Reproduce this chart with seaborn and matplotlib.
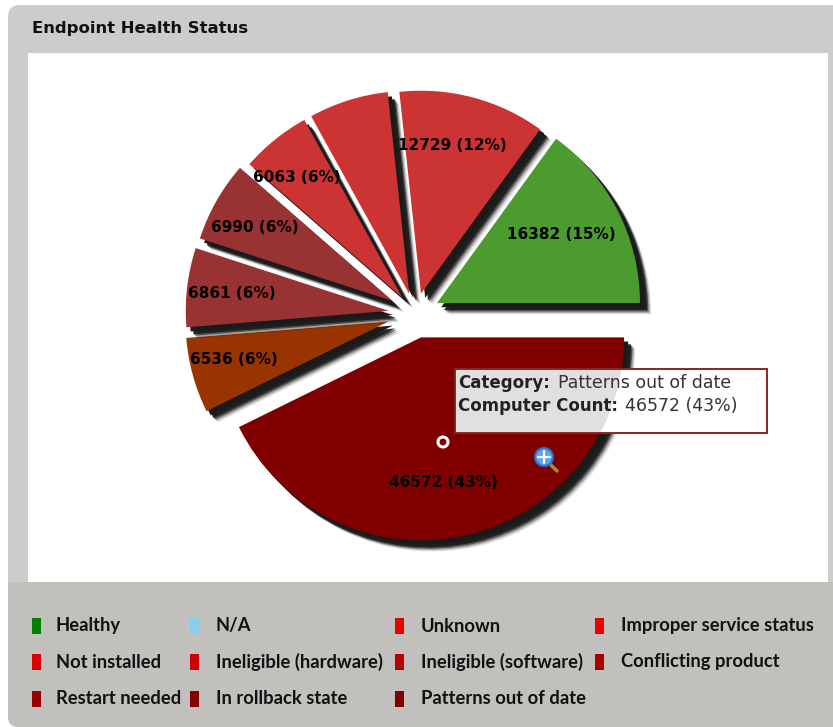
import matplotlib
matplotlib.use("Agg")
import matplotlib.pyplot as plt
import matplotlib.patheffects as pe
from matplotlib.patches import FancyBboxPatch, Rectangle, Circle
import seaborn as sns

sns.set_theme(style="white")
plt.rcParams['font.family'] = ['DejaVu Sans']

title = "Endpoint Health Status"
slice_names = ["Patterns out of date", "In rollback state", "Restart needed", "Conflicting product",
               "Ineligible (software)", "Ineligible (hardware)", "Not installed", "Healthy"]
slice_values = [46572, 6536, 6861, 6990, 6063, 6900, 12729, 16382]
slice_labels = ["46572 (43%)", "6536 (6%)", "6861 (6%)", "6990 (6%)", "6063 (6%)", "", "12729 (12%)", "16382 (15%)"]
slice_colors = ["#800000", "#993300", "#993333", "#993333", "#cc3333", "#cc3333", "#cc3333", "#4b9b2f"]

legend_names = ["Healthy", "N/A", "Unknown", "Improper service status",
                "Not installed", "Ineligible (hardware)", "Ineligible (software)", "Conflicting product",
                "Restart needed", "In rollback state", "Patterns out of date"]
legend_colors = ["#008000", "#87ceeb", "#e60000", "#e60000",
                 "#dd0000", "#cc0000", "#bb0000", "#aa0000",
                 "#990000", "#880000", "#800000"]
tooltip_keys = ["Category:", "Computer Count:"]
tooltip_vals = ["Patterns out of date", "46572 (43%)"]

# layout only
explode_px = [24, 28, 27, 26, 21, 21, 21, 24]
label_nudges = [(-10, 5), (-16, 0), (-14, -1), (-13, -3), (-15, -8), (0, 0), (-6, -9), (-4, -3)]

W, H = 833, 727
fig = plt.figure(figsize=(W / 100, H / 100), dpi=100, facecolor="white")
ax = fig.add_axes([0, 0, 1, 1])
Y = lambda y: H - y

# panel
ax.add_patch(FancyBboxPatch((8, Y(727)), 840, 722, boxstyle="round,pad=0,rounding_size=12",
                            fc="#cccccc", ec="none", zorder=0))
ax.add_patch(Rectangle((28, Y(582)), 800, 529, fc="white", ec="none", zorder=1))
ax.add_patch(FancyBboxPatch((8, Y(727)), 840, 145, boxstyle="round,pad=0,rounding_size=10",
                            fc="#c2c0bd", ec="none", zorder=1))
ax.add_patch(Rectangle((8, Y(600)), 840, 18, fc="#c2c0bd", ec="none", zorder=1))
ax.text(32, Y(28), title, fontsize=11.85, fontweight="bold", color="#111111", va="center", ha="left", zorder=5)

# pie
wedges, texts, autotexts = ax.pie(
    slice_values, colors=sns.color_palette(slice_colors), startangle=0, counterclock=False,
    center=(415.6, Y(314)), radius=203, explode=explode_px,
    autopct=(lambda it: (lambda p: next(it)))(iter(slice_labels)), pctdistance=0.71,
    textprops=dict(fontsize=11, fontweight="bold", color="black"),
    wedgeprops=dict(linewidth=0), frame=False)
shadow = [pe.SimplePatchShadow(offset=(o, -o), shadow_rgbFace="k", alpha=a)
          for o, a in [(8, .15), (7, .3), (6, .6), (5, .9), (3, 1.0)]]
for w in wedges:
    w.set_zorder(3)
    w.set_path_effects(shadow + [pe.Normal()])
for t, (dx, dy) in zip(autotexts, label_nudges):
    t.set_zorder(6)
    x, y = t.get_position()
    t.set_position((x + dx, y - dy))

ax.set_xlim(0, W)
ax.set_ylim(0, H)
ax.set_aspect("equal")
ax.axis("off")

# tooltip: white box, grey where it lies over the big slice
ax.add_patch(Rectangle((455, Y(433)), 312, 64, fc="white", ec="none", zorder=7))
grey = Rectangle((455, Y(433)), 312, 64, fc="#e0e0e0", ec="none", zorder=7.2)
ax.add_patch(grey)
grey.set_clip_path(wedges[0])
ax.add_patch(Rectangle((455, Y(433)), 312, 64, fc="none", ec="#8b2525", lw=1.4, zorder=7.4))
for y, k, v, x in zip((383, 406), tooltip_keys, tooltip_vals, (558, 625)):
    ax.text(458, Y(y), k, fontsize=12, fontweight="bold", color="#222222", va="center", zorder=8)
    ax.text(x, Y(y), v, fontsize=12.5, color="#333333", va="center", zorder=8)

# hover marker
ax.add_patch(Circle((443, Y(442)), 5, fc="#800000", ec="white", lw=2.2, zorder=7))
# zoom icon
ax.plot([549, 557], [Y(463), Y(471)], color="#b8862b", lw=2.5, zorder=7)
ax.add_patch(Circle((544, Y(457)), 9, fc="#5aa5ee", ec="#2c6fd0", lw=1.5, zorder=8))
ax.plot([538, 550], [Y(457), Y(457)], color="white", lw=1.6, zorder=9)
ax.plot([544, 544], [Y(451), Y(463)], color="white", lw=1.6, zorder=9)

# legend
col_x = [32, 190, 395, 595]
row_y = [626, 662, 699]
for i, (name, c) in enumerate(zip(legend_names, legend_colors)):
    x, y = col_x[i % 4], row_y[i // 4]
    ax.add_patch(Rectangle((x, Y(y + 8)), 9, 16, fc=c, ec="none", zorder=5))
    ax.text(x + 24 + (2 if i % 4 else 0), Y(y), name, fontsize=13.2, fontweight="bold", family="Lato",
            color="#111111", va="center", ha="left", zorder=5)

fig.savefig("out.png", dpi=100, facecolor="white")
